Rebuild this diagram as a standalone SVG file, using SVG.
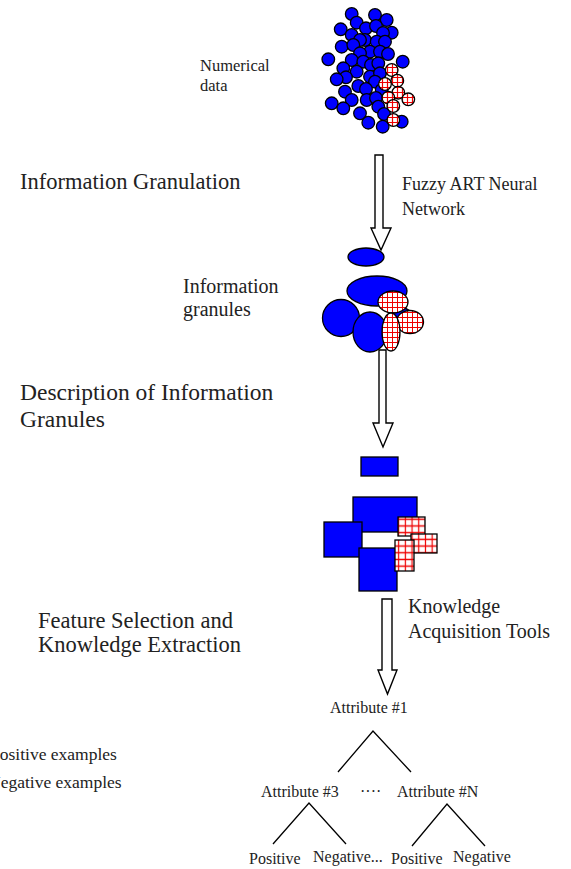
<svg xmlns="http://www.w3.org/2000/svg" width="571" height="869" viewBox="0 0 571 869">
  <style>
    .t { font-family: "Liberation Serif", "Times New Roman", serif; fill: #222; }
    .big { font-size: 22.5px; }
    .mid { font-size: 20px; }
    .sm { font-size: 16px; }
    .blue { fill: #0000ff; stroke: #000; stroke-width: 1.3; }
    .hc { fill: url(#hatchS); stroke: #000; stroke-width: 1.3; }
    .he { fill: url(#hatchM); stroke: #000; stroke-width: 1.3; }
    .hr { fill: url(#hatchL); stroke: #000; stroke-width: 1.3; }
    .arrow { fill: #fff; stroke: #000; stroke-width: 1.4; stroke-linejoin: miter; }
    .branch { fill: none; stroke: #000; stroke-width: 1.3; }
  </style>
  <defs>
    <pattern id="hatchS" patternUnits="userSpaceOnUse" width="5" height="5">
      <rect width="5" height="5" fill="#fff"/>
      <path d="M2.5 0V5M0 2.5H5" stroke="#e00" stroke-width="1.2"/>
    </pattern>
    <pattern id="hatchM" patternUnits="userSpaceOnUse" width="5" height="5">
      <rect width="5" height="5" fill="#fff"/>
      <path d="M2.5 0V5M0 2.5H5" stroke="#e00" stroke-width="1"/>
    </pattern>
    <pattern id="hatchL" patternUnits="userSpaceOnUse" width="6.7" height="6.7">
      <rect width="6.7" height="6.7" fill="#fff"/>
      <path d="M3.35 0V6.7M0 3.35H6.7" stroke="#e00" stroke-width="1.2"/>
    </pattern>
  </defs>

  <!-- raw numerical data points -->
  <g id="numerical-data">
    <g class="blue">
      <circle cx="351.7" cy="14" r="6.3"/>
      <circle cx="375" cy="15" r="6.3"/>
      <circle cx="386.7" cy="20" r="6.3"/>
      <circle cx="356.7" cy="22.7" r="6.3"/>
      <circle cx="366" cy="28.3" r="6.3"/>
      <circle cx="376" cy="26" r="6.3"/>
      <circle cx="340.7" cy="29.3" r="6.3"/>
      <circle cx="391.7" cy="32.7" r="6.3"/>
      <circle cx="351.7" cy="35" r="6.3"/>
      <circle cx="383" cy="33" r="6.3"/>
      <circle cx="365" cy="40" r="6.3"/>
      <circle cx="360" cy="40" r="6.3"/>
      <circle cx="376.7" cy="41.7" r="6.3"/>
      <circle cx="385" cy="41.7" r="6.3"/>
      <circle cx="341.7" cy="46.7" r="6.3"/>
      <circle cx="353.3" cy="45" r="6.3"/>
      <circle cx="370" cy="51.7" r="6.3"/>
      <circle cx="380" cy="51.7" r="6.3"/>
      <circle cx="388" cy="54" r="6.3"/>
      <circle cx="360" cy="53.3" r="6.3"/>
      <circle cx="328.3" cy="59.3" r="6.3"/>
      <circle cx="351.7" cy="60" r="6.3"/>
      <circle cx="363.3" cy="61.7" r="6.3"/>
      <circle cx="371" cy="65" r="6.3"/>
      <circle cx="378.3" cy="63.3" r="6.3"/>
      <circle cx="402.7" cy="61.7" r="6.3"/>
      <circle cx="343.3" cy="68.3" r="6.3"/>
      <circle cx="356.7" cy="71.7" r="6.3"/>
      <circle cx="370" cy="76.7" r="6.3"/>
      <circle cx="380" cy="73.3" r="6.3"/>
      <circle cx="346" cy="77.3" r="6.3"/>
      <circle cx="336.7" cy="79.3" r="6.3"/>
      <circle cx="375" cy="81.7" r="6.3"/>
      <circle cx="358.3" cy="86" r="6.3"/>
      <circle cx="366" cy="89" r="6.3"/>
      <circle cx="345" cy="91.7" r="6.3"/>
      <circle cx="381.7" cy="90" r="6.3"/>
      <circle cx="351.7" cy="100" r="6.3"/>
      <circle cx="366.7" cy="100" r="6.3"/>
      <circle cx="376" cy="98" r="6.3"/>
      <circle cx="331.7" cy="103.3" r="6.3"/>
      <circle cx="343.3" cy="108.3" r="6.3"/>
      <circle cx="378.3" cy="106.7" r="6.3"/>
      <circle cx="360" cy="113.3" r="6.3"/>
      <circle cx="384" cy="114" r="6.3"/>
      <circle cx="368.3" cy="122.7" r="6.3"/>
      <circle cx="382.7" cy="126.7" r="6.3"/>
      <circle cx="401.7" cy="121.7" r="6.3"/>
    </g>
    <g class="hc">
      <circle cx="391.7" cy="70" r="6.3"/>
      <circle cx="397.3" cy="80.7" r="6.3"/>
      <circle cx="385" cy="84" r="6.3"/>
      <circle cx="398.3" cy="92.7" r="6.3"/>
      <circle cx="388.3" cy="97.7" r="6.3"/>
      <circle cx="408.3" cy="99.3" r="6.3"/>
      <circle cx="393.3" cy="106" r="6.3"/>
      <circle cx="393.3" cy="120" r="6.3"/>
    </g>
  </g>

  <!-- information granules as ellipses -->
  <g id="granules">
    <ellipse class="blue" cx="366" cy="257" rx="18" ry="9"/>
    <ellipse class="blue" cx="377" cy="291" rx="30" ry="15"/>
    <ellipse class="blue" cx="402" cy="316" rx="10" ry="8"/>
    <ellipse class="blue" cx="341" cy="318" rx="18.5" ry="18.5"/>
    <ellipse class="blue" cx="370" cy="332" rx="17" ry="20"/>
    <ellipse class="he" cx="393" cy="302" rx="15" ry="11"/>
    <ellipse class="he" cx="410" cy="322" rx="13.5" ry="11.5"/>
    <ellipse class="he" cx="391" cy="332" rx="9" ry="19"/>
  </g>

  <!-- hyperbox descriptions of the granules -->
  <g id="hyperboxes">
    <rect class="blue" x="361" y="457" width="37" height="19"/>
    <rect class="blue" x="353" y="497" width="64" height="35"/>
    <rect class="blue" x="324" y="522" width="38" height="35"/>
    <rect class="blue" x="359" y="548" width="38" height="43"/>
    <rect class="hr" x="398" y="517" width="27" height="19"/>
    <rect class="hr" x="411" y="534" width="26" height="19"/>
    <rect class="hr" x="395" y="540" width="19" height="31"/>
  </g>

  <!-- processing stages -->
  <g id="connectors">
    <path class="arrow" d="M375 155H383V228H391L381 250L371 228H375Z"/>
    <path class="arrow" d="M379 350H386V423H393L383 447L373 423H379Z"/>
    <path class="arrow" d="M382 599H392V670H397L387.5 694L378 670H382Z"/>
  </g>

  <!-- decision tree -->
  <g id="tree">
    <path class="branch" d="M338 772L373 731L411 772"/>
    <path class="branch" d="M273 844L309 803L346 844"/>
    <path class="branch" d="M412 846L447 804L485 846"/>
    <text class="t sm" x="330" y="713">Attribute #1</text>
    <text class="t sm" x="261" y="797">Attribute #3</text>
    <text class="t sm" x="360" y="797">····</text>
    <text class="t sm" x="397" y="797">Attribute #N</text>
    <text class="t sm" x="249" y="864">Positive</text>
    <text class="t sm" x="313" y="862">Negative...</text>
    <text class="t sm" x="391" y="864">Positive</text>
    <text class="t sm" x="453" y="862">Negative</text>
  </g>

  <!-- labels -->
  <g id="labels">
    <text class="t" style="font-size:16.5px" x="200" y="71">Numerical</text>
    <text class="t" style="font-size:16.5px" x="200" y="91">data</text>
    <text class="t big" x="20" y="189">Information Granulation</text>
    <text class="t" style="font-size:18px" x="402" y="190">Fuzzy ART Neural</text>
    <text class="t" style="font-size:18px" x="402" y="215">Network</text>
    <text class="t mid" x="183" y="293">Information</text>
    <text class="t mid" x="183" y="316">granules</text>
    <text class="t" style="font-size:23.5px" x="20" y="400">Description of Information</text>
    <text class="t" style="font-size:23.5px" x="20" y="427">Granules</text>
    <text class="t big" x="38" y="628">Feature Selection and</text>
    <text class="t big" x="38" y="652">Knowledge Extraction</text>
    <text class="t mid" x="408" y="613">Knowledge</text>
    <text class="t mid" x="408" y="638">Acquisition Tools</text>
    <text class="t" style="font-size:17.5px" x="-10" y="760">Positive examples</text>
    <text class="t" style="font-size:17.5px" x="-12" y="788">Negative examples</text>
  </g>
</svg>
